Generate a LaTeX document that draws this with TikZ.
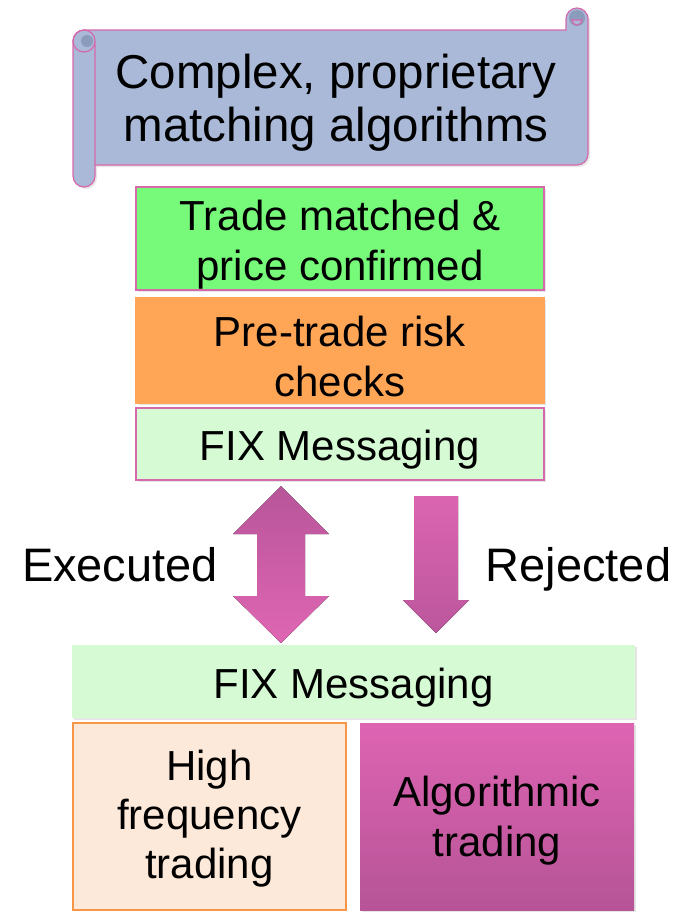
\documentclass[tikz,border=0pt]{standalone}
\usepackage{fontspec}
\setmainfont{Liberation Sans}
\usetikzlibrary{positioning,shadows}
\definecolor{scrollblue}{HTML}{A9B9D7}
\definecolor{scrolldark}{HTML}{8A9BBC}
\definecolor{rimpink}{HTML}{D669AC}
\definecolor{matchgreen}{HTML}{77F97A}
\definecolor{riskorange}{HTML}{FFA656}
\definecolor{fixgreen}{HTML}{D5FAD4}
\definecolor{peach}{HTML}{FDE9D9}
\definecolor{hfborder}{HTML}{F79646}
\definecolor{arrowdark}{HTML}{B8559A}
\definecolor{arrowlight}{HTML}{DF66B2}
\definecolor{algpink}{HTML}{DE64B2}
\definecolor{algdark}{HTML}{B65497}
% strut that pushes the first line down a little
\newcommand{\lift}[1][42pt]{\rule{0pt}{#1}}

\begin{document}
\begin{tikzpicture}[x=1pt,y=-1pt,on grid,node distance=100pt,
  stage/.style={rectangle,draw=rimpink,line width=1.2pt,inner sep=0pt,
    minimum width=408pt,align=center,font=\fontsize{42}{50}\selectfont},
  softshadow/.style={drop shadow={shadow xshift=2pt,shadow yshift=-2pt,opacity=0.2}},
  bigtext/.style={inner sep=0pt,align=center,font=\fontsize{47.5}{53}\selectfont},
  sidelabel/.style={inner sep=0pt,anchor=base,font=\fontsize{47}{53}\selectfont}]
	\useasboundingbox (0,0) rectangle (691,914);
	% scroll
	\draw[fill=scrollblue,draw=rimpink,line width=1.2pt,softshadow]
	  (73,41) arc (180:270:11) -- (566,30) -- (566,19) arc (180:360:11)
	  -- (588,154) arc (0:90:11) -- (95,165) -- (95,176) arc (0:180:11) -- cycle;
	\fill[scrolldark] (87,41) circle (6);
	\draw[rimpink,line width=1.2pt] (84,41) circle (11) (95,41) -- (95,165);
	\fill[scrolldark] (577,18) circle (8);
	\draw[rimpink,line width=1.2pt,fill=scrollblue] (572,20) arc (180:0:5) -- cycle;
	\node[bigtext] (algos) at (336,98) {\lift[43pt]Complex, proprietary\\matching algorithms};
	% exchange side
	\node[stage,fill=matchgreen,minimum height=103pt,softshadow] (match) at (340,238.5) {\lift Trade matched \&\\price confirmed};
	\node[stage,fill=riskorange,draw=riskorange,minimum height=105pt,softshadow,below=112pt of match] (risk) {\lift Pre-trade risk\\checks};
	\node[stage,fill=fixgreen,minimum height=72pt,softshadow,below=93.5pt of risk] (fixtop) {\lift FIX Messaging};
	% arrows
	\fill[top color=arrowdark,bottom color=arrowlight]
	  (281,486) -- (329,534) -- (305,534) -- (305,596) -- (329,596) -- (281,643)
	  -- (233,596) -- (257,596) -- (257,534) -- (233,534) -- cycle;
	\fill[top color=arrowlight!90!arrowdark,bottom color=arrowdark!90!arrowlight]
	  (414,496) -- (458,496) -- (458,600) -- (469,600) -- (436,633) -- (403,600) -- (414,600) -- cycle;
	\node[sidelabel] (executed) at (120,581) {Executed};
	\node[sidelabel] (rejected) at (578.5,581) {Rejected};
	% trader side
	\node[stage,draw=none,fill=fixgreen,minimum width=563pt,minimum height=73pt,softshadow] (fixbot) at (353.5,681.5) {\lift FIX Messaging};
	\node[stage,fill=peach,draw=hfborder,minimum width=273pt,minimum height=187pt,
	  font=\fontsize{42}{49}\selectfont] (hft) at (209.5,816.5) {\lift[35pt]High\\frequency\\trading};
	\node[stage,draw=none,top color=algpink,bottom color=algdark,minimum width=274pt,
	  minimum height=187pt,softshadow,right=287.5pt of hft] (algtrade) {\lift[38pt]Algorithmic\\trading};
\end{tikzpicture}
\end{document}
